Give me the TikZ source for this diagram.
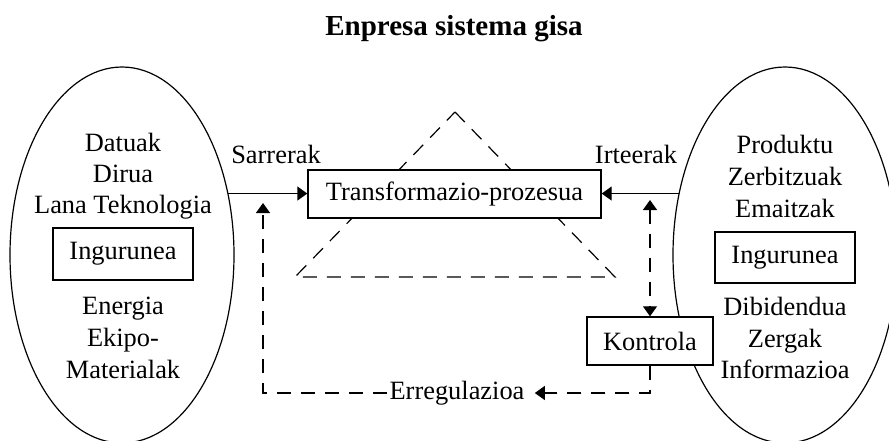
\documentclass[tikz,border=0pt]{standalone}
\usepackage{fontspec}
\setmainfont{Liberation Serif}
\usetikzlibrary{arrows.meta,shapes.geometric}
\begin{document}
\begin{tikzpicture}[x=0.5pt,y=-0.5pt,
  txt/.style={font=\fontsize{13.2}{15}\selectfont, inner sep=0pt, anchor=base},
  box/.style={draw, line width=0.7pt, fill=white, font=\fontsize{13.2}{15}\selectfont, inner sep=0pt},
  ell/.style={draw, line width=0.6pt, ellipse, minimum width=112pt, minimum height=188pt, inner sep=0pt},
  tip/.style={-{Triangle[length=5pt,width=7pt]}},
  dsh/.style={dash pattern=on 7pt off 5pt, line width=0.6pt}
]
\useasboundingbox (0,0) rectangle (889,440);
\clip (0,0) rectangle (889,440);

% title
\node[font=\fontsize{14.5}{17}\selectfont\bfseries, anchor=base, inner sep=0pt] (title) at (454,35) {Enpresa sistema gisa};

% ellipses
\node[ell] (le) at (122,255) {};
\node[ell] (re) at (785,255) {};

% left texts
\node[txt] (l1) at (123,151) {Datuak};
\node[txt] (l2) at (123,182) {Dirua};
\node[txt] (l3) at (123,213) {Lana Teknologia};
\node[box, minimum width=70pt, minimum height=26pt] (lin) at (123,254) {Ingurunea};
\node[txt] (l4) at (123,314) {Energia};
\node[txt] (l5) at (123,346) {Ekipo-};
\node[txt] (l6) at (123,378) {Materialak};

% right texts
\node[txt] (r1) at (785,153) {Produktu};
\node[txt] (r2) at (785,185) {Zerbitzuak};
\node[txt] (r3) at (785,217) {Emaitzak};
\node[box, minimum width=70pt, minimum height=25.5pt] (rin) at (785,257.5) {Ingurunea};
\node[txt] (r4) at (785,315) {Dibidendua};
\node[txt] (r5) at (785,347) {Zergak};
\node[txt] (r6) at (785,378) {Informazioa};

% dashed triangle
\draw[dsh] (455,112) -- (615,277) -- (295,277) -- cycle;

% central box
\node[box, minimum width=146.5pt, minimum height=24pt] (tp) at (454.5,194) {Transformazio-prozesua};
\node[box, minimum width=63pt, minimum height=24pt] (ko) at (650,341) {Kontrola};

% labels
\node[txt] (sar) at (276,163) {Sarrerak};
\node[txt] (irt) at (636,163) {Irteerak};

% solid arrows
\draw[line width=0.7pt, tip] (le.30) -- (le.30 -| tp.west);
\draw[line width=0.7pt, tip] (re.150) -- (re.150 -| tp.east);

% feedback
\coordinate (fb) at (263,203);
\coordinate (fu) at (650,200);
\node[font=\fontsize{13.2}{15}\selectfont, fill=white, inner sep=1pt] (er) at (457,393) {Erregulazioa};
\draw[dsh, tip, shorten >=4pt] (ko.south) |- (er.east);
\draw[dsh, tip] (er.west) -| (fb);
\draw[dsh, {Triangle[length=5pt,width=7pt]}-{Triangle[length=5pt,width=7pt]}] (fu) -- (ko.north);
\end{tikzpicture}
\end{document}
